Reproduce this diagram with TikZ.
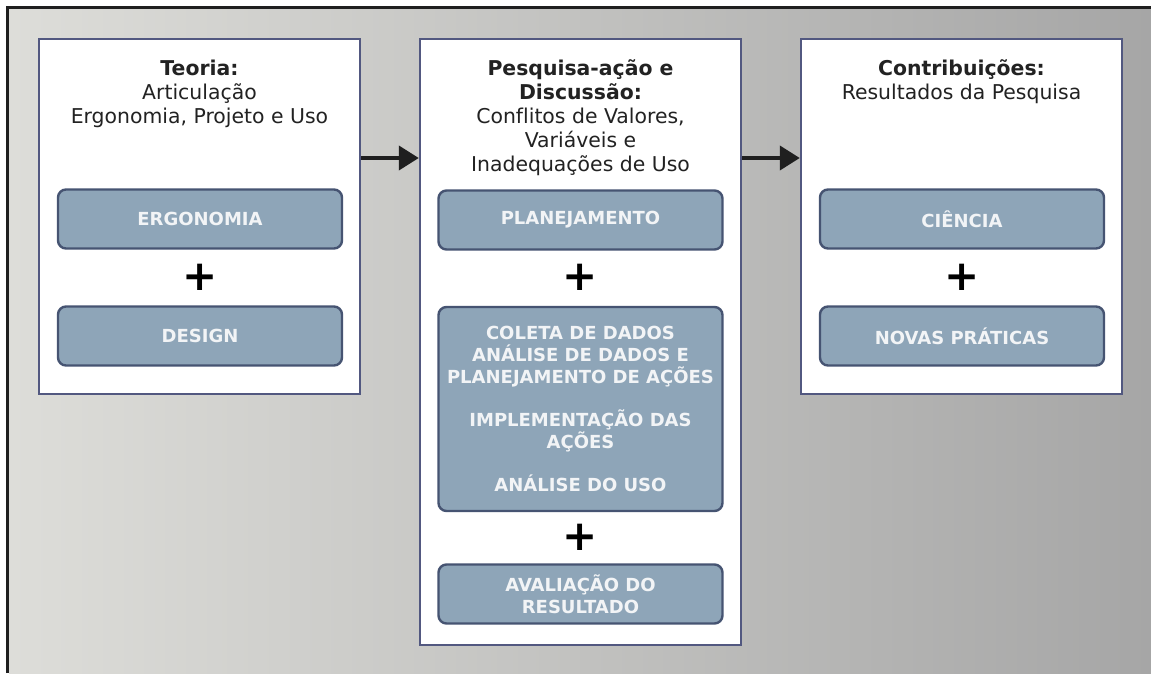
\documentclass[tikz,border=0pt]{standalone}
\usepackage{fontspec}
\setmainfont{DejaVu Sans}[Ligatures=NoCommon]
\usepackage{tikz}
\usetikzlibrary{arrows.meta,calc,positioning}
\definecolor{rahmen}{RGB}{82,88,128}
\definecolor{kastenfarbe}{RGB}{142,165,184}
\definecolor{kastenrand}{RGB}{70,84,114}
\definecolor{hglinks}{RGB}{221,221,217}
\definecolor{hgrechts}{RGB}{166,166,166}
\definecolor{schrift}{RGB}{34,34,34}
\definecolor{kastenschrift}{RGB}{242,244,246}
\tikzset{
  spalte/.style={draw=rahmen,line width=1.2pt,fill=white,minimum width=160.5pt,inner sep=0pt},
  kasten/.style={draw=kastenrand,line width=1.2pt,fill=kastenfarbe,rounded corners=4pt,minimum width=142pt,minimum height=29.5pt,align=center,text=kastenschrift,font=\fontsize{9}{10.85}\selectfont\bfseries},
  titel/.style={align=center,inner sep=0pt,text=schrift,font=\fontsize{10.2}{12}\selectfont},
  plus/.style={inner sep=0pt,text=black,font=\fontsize{21}{21}\selectfont\bfseries},
  pfeil/.style={line width=2pt,draw=black!88,-{Triangle[length=10pt,width=12pt]}}
}
\begin{document}
\begin{tikzpicture}[x=0.5pt,y=-0.5pt]
%Alle Koordinaten in Pixeln des Vorbilds (1151 x 675), y zeigt nach unten
\useasboundingbox (0,0) rectangle (1151,675);
\fill[white] (0,0) rectangle (1151,675);
\shade[left color=hglinks,right color=hgrechts] (9,9) rectangle (1151,673);
\draw[black!88,line width=1.5pt] (7.5,673) -- (7.5,7.5) -- (1151,7.5);
%Die drei Spalten
\node[spalte,minimum height=177.5pt] (teoria) at (199.5,216.5) {};
\node[spalte,minimum height=303pt] (pesquisa) at (580.5,342) {};
\node[spalte,minimum height=177.5pt] (contrib) at (961.5,216.5) {};
%Ueberschriften
\node[titel,below=10.8pt of teoria.north] (teoriaTitel) {\textbf{Teoria:}\\Articulação\\Ergonomia, Projeto e Uso};
\node[titel,below=10.8pt of pesquisa.north] (pesquisaTitel) {\textbf{Pesquisa-ação e}\\\textbf{Discussão:}\\Conflitos de Valores,\\Variáveis e\\Inadequações de Uso};
\node[titel,below=10.8pt of contrib.north] (contribTitel) {\textbf{Contribuições:}\\Resultados da Pesquisa};
%Kaesten mit gleicher Hoehe
\foreach \nm/\px/\py/\inhalt in {ergonomia/200/219/ERGONOMIA, design/200/336/DESIGN, planej/580.5/220/PLANEJAMENTO, ciencia/962/219/CIÊNCIA, praticas/962/336/NOVAS PRÁTICAS}
  \node[kasten] (\nm) at (\px,\py) {\inhalt};
\node[kasten,minimum height=102pt] (ablauf) at (580.5,409) {COLETA DE DADOS\\ANÁLISE DE DADOS E\\PLANEJAMENTO DE AÇÕES\\[10.85pt]IMPLEMENTAÇÃO DAS\\AÇÕES\\[10.85pt]ANÁLISE DO USO};
\node[kasten] (avaliacao) at (580.5,594) {AVALIAÇÃO DO\\RESULTADO};
%Pluszeichen
\foreach \nm/\px/\py in {plusA/200/277, plusB/580.5/277, plusC/580.5/537, plusD/962/277}
  \node[plus] (\nm) at (\px,\py) {+};
%Pfeile zwischen den Spalten
\coordinate (pfeilhoehe) at (0,158);
\draw[pfeil] (teoria.east |- pfeilhoehe) -- (pesquisa.west |- pfeilhoehe);
\draw[pfeil] (pesquisa.east |- pfeilhoehe) -- (contrib.west |- pfeilhoehe);
\end{tikzpicture}
\end{document}
